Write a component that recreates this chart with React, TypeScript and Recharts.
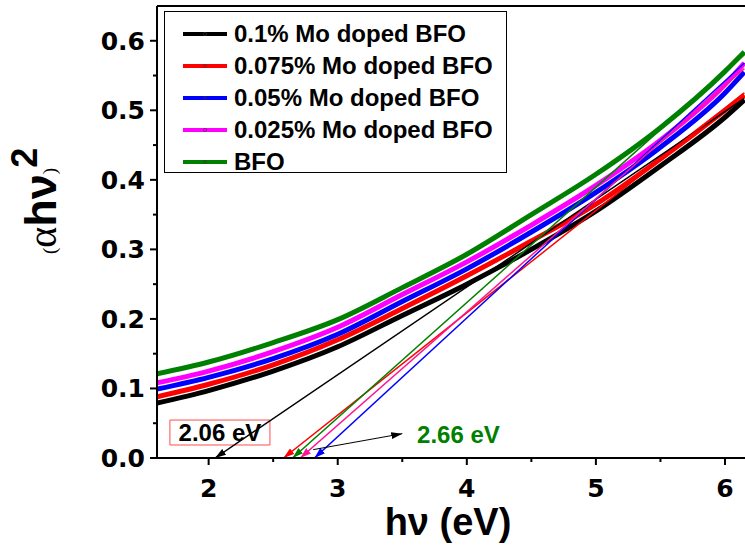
import React from "react";
import {
  LineChart,
  Line,
  XAxis,
  YAxis,
  ReferenceLine,
  ReferenceArea,
  Legend,
} from "recharts";

// photon energy (eV)
const HV = [1.6, 2.0, 2.5, 3.0, 3.5, 4.0, 4.5, 5.0, 5.5, 6.0, 6.15];

// (alpha h nu)^2 for each sample
const MO_0100 = [0.079, 0.097, 0.125, 0.16, 0.205, 0.25, 0.3, 0.355, 0.42, 0.49, 0.515];
const MO_0075 = [0.088, 0.106, 0.134, 0.17, 0.215, 0.262, 0.312, 0.365, 0.43, 0.5, 0.522];
const MO_0050 = [0.099, 0.116, 0.143, 0.178, 0.225, 0.272, 0.325, 0.382, 0.447, 0.525, 0.555];
const MO_0025 = [0.108, 0.125, 0.153, 0.188, 0.235, 0.282, 0.335, 0.392, 0.457, 0.537, 0.568];
const BFO = [0.121, 0.138, 0.166, 0.199, 0.245, 0.293, 0.35, 0.408, 0.475, 0.556, 0.584];

const SERIES_NAMES = [
  "0.1% Mo doped BFO",
  "0.075% Mo doped BFO",
  "0.05% Mo doped BFO",
  "0.025% Mo doped BFO",
  "BFO",
];
const SERIES_VALUES = [MO_0100, MO_0075, MO_0050, MO_0025, BFO];
const SERIES_COLORS = ["#000000", "#ff0000", "#0000ff", "#ff00ff", "#008000"];

// linear extrapolation lines: band gap intercept -> upper end
const TANGENT_X0 = [2.05, 2.58, 2.82, 2.71, 2.65];
const TANGENT_X1 = [6.15, 6.15, 6.15, 6.15, 6.15];
const TANGENT_Y1 = [0.517, 0.525, 0.568, 0.56, 0.58];
const TANGENT_COLORS = ["#000000", "#ff0000", "#0000ff", "#ff1493", "#008000"];

// small pointer toward the "2.66 eV" label
const POINTER_X = [2.81, 3.5];
const POINTER_Y = [0.012, 0.035];

const X_TICKS = [2, 3, 4, 5, 6];
const X_MINOR = [2.5, 3.5, 4.5, 5.5];
const Y_TICKS = [0, 0.1, 0.2, 0.3, 0.4, 0.5, 0.6];
const Y_MINOR = [0.05, 0.15, 0.25, 0.35, 0.45, 0.55];

const LOW_GAP = "2.06 eV";
const HIGH_GAP = "2.66 eV";

const rows = HV.map((x, i) => {
  const r: Record<string, number> = { x };
  SERIES_NAMES.forEach((n, k) => (r[n] = SERIES_VALUES[k][i]));
  return r;
});

const tangentData = TANGENT_X0.map((x0, i) => [
  { x: x0, y: 0 },
  { x: TANGENT_X1[i], y: TANGENT_Y1[i] },
]);

const pointerData = POINTER_X.map((x, i) => ({ x, y: POINTER_Y[i] }));

const tickFont = "'DejaVu Sans', sans-serif";
const textFont = "'Liberation Sans', Arial, sans-serif";

const XTick = ({ x, y, payload }: any) => {
  const major = X_TICKS.includes(payload.value);
  return (
    <g>
      <line x1={x} y1={y} x2={x} y2={y + (major ? 7 : 4)} stroke="#000" strokeWidth={2} />
      {major && (
        <text x={x} y={y + 39} textAnchor="middle" fontFamily={tickFont} fontWeight="bold" fontSize={25} fill="#000">
          {payload.value}
        </text>
      )}
    </g>
  );
};

const YTick = ({ x, y, payload }: any) => {
  const major = Y_TICKS.includes(payload.value);
  return (
    <g>
      <line x1={x - (major ? 7 : 4)} y1={y} x2={x} y2={y} stroke="#000" strokeWidth={2} />
      {major && (
        <text x={x - 12} y={y + 9} textAnchor="end" fontFamily={tickFont} fontWeight="bold" fontSize={25} fill="#000">
          {payload.value.toFixed(1)}
        </text>
      )}
    </g>
  );
};

const renderLegend = ({ payload }: any) => {
  const items = (payload || [])
    .filter((p: any) => SERIES_NAMES.includes(p.value))
    .sort((a: any, b: any) => SERIES_NAMES.indexOf(a.value) - SERIES_NAMES.indexOf(b.value));
  return (
    <div
      style={{
        boxSizing: "border-box",
        width: 343,
        height: 162,
        border: "1px solid #000",
        background: "#fff",
        paddingTop: 6,
      }}
    >
      {items.map((p: any) => (
        <div key={p.value} style={{ height: 32, display: "flex", alignItems: "center", paddingLeft: 17 }}>
          <svg width={46} height={10} style={{ flex: "none" }}>
            <line x1={1} y1={5} x2={45} y2={5} stroke={p.color} strokeWidth={4} />
            <circle cx={23} cy={5} r={1.6} fill={p.color} stroke="#333" strokeWidth={0.6} />
          </svg>
          <span
            style={{
              marginLeft: 6,
              fontFamily: textFont,
              fontWeight: "bold",
              fontSize: 24,
              lineHeight: "32px",
              color: "#000",
              whiteSpace: "nowrap",
            }}
          >
            {p.value}
          </span>
        </div>
      ))}
    </div>
  );
};

const arrowId = (c: string) => "arrow-" + c.replace("#", "");

export default function App() {
  const markerColors = Array.from(new Set([...TANGENT_COLORS, "#000000"]));
  return (
    <div style={{ position: "relative", width: 745, height: 545, background: "#fff", overflow: "hidden" }}>
      <style>{"body{margin:0}"}</style>
      <LineChart width={745} height={545} data={rows} margin={{ top: 6, right: 0, bottom: 0, left: 0 }}>
        <defs>
          {markerColors.map((c) => (
            <marker
              key={c}
              id={arrowId(c)}
              viewBox="0 0 10 10"
              refX={10}
              refY={5}
              markerWidth={11}
              markerHeight={7}
              markerUnits="userSpaceOnUse"
              preserveAspectRatio="none"
              orient="auto-start-reverse"
            >
              <path d="M0,0 L10,5 L0,10 z" fill={c} />
            </marker>
          ))}
        </defs>
        <XAxis
          dataKey="x"
          type="number"
          domain={[1.6, 6.155]}
          allowDataOverflow
          ticks={[...X_TICKS, ...X_MINOR]}
          interval={0}
          height={87}
          tickSize={0}
          tickMargin={0}
          tickLine={false}
          tick={<XTick />}
          axisLine={{ stroke: "#000", strokeWidth: 2 }}
        />
        <YAxis
          type="number"
          domain={[0, 0.65]}
          allowDataOverflow
          ticks={[...Y_TICKS, ...Y_MINOR]}
          interval={0}
          width={157}
          tickSize={0}
          tickMargin={0}
          tickLine={false}
          tick={<YTick />}
          axisLine={{ stroke: "#000", strokeWidth: 2 }}
        />
        <ReferenceLine y={0.65} stroke="#000" strokeWidth={2} />
        {SERIES_NAMES.map((n, i) => (
          <Line
            key={n}
            name={n}
            dataKey={n}
            type="monotone"
            stroke={SERIES_COLORS[i]}
            strokeWidth={5}
            dot={false}
            activeDot={false}
            isAnimationActive={false}
          />
        ))}
        {tangentData.map((d, i) => (
          <Line
            key={"t" + i}
            data={d}
            dataKey="y"
            type="linear"
            stroke={TANGENT_COLORS[i]}
            strokeWidth={1.5}
            dot={false}
            activeDot={false}
            legendType="none"
            markerStart={`url(#${arrowId(TANGENT_COLORS[i])})`}
            isAnimationActive={false}
          />
        ))}
        <Line
          data={pointerData}
          dataKey="y"
          type="linear"
          stroke="#000"
          strokeWidth={1}
          dot={false}
          activeDot={false}
          legendType="none"
          markerEnd={`url(#${arrowId("#000000")})`}
          isAnimationActive={false}
        />
        <ReferenceArea
          x1={1.7}
          x2={2.475}
          y1={0.0187}
          y2={0.0546}
          fill="none"
          stroke="#ff4d4d"
          strokeWidth={1}
          label={{
            value: LOW_GAP,
            position: "center",
            fill: "#000",
            fontSize: 24,
            fontWeight: "bold",
            fontFamily: textFont,
          }}
        />
        <ReferenceArea
          x1={3.6}
          x2={4.27}
          y1={0.02}
          y2={0.049}
          fill="none"
          stroke="none"
          label={{
            value: HIGH_GAP,
            position: "center",
            fill: "#008000",
            fontSize: 24,
            fontWeight: "bold",
            fontFamily: textFont,
          }}
        />
        <Legend
          layout="vertical"
          align="center"
          verticalAlign="middle"
          wrapperStyle={{ left: 164, top: 11, width: 343, height: 162 }}
          content={renderLegend}
        />
      </LineChart>
      <svg width={745} height={545} style={{ position: "absolute", left: 0, top: 0, pointerEvents: "none" }}>
        <text x={448} y={535} textAnchor="middle" fontFamily={textFont} fontWeight="bold" fontSize={38} fill="#000">
          hν (eV)
        </text>
        <text transform="rotate(-90)" x={-254} y={56} fill="#000">
          <tspan fontFamily="'Liberation Serif', serif" fontSize={19}>(</tspan>
          <tspan fontFamily="'Liberation Serif', serif" fontSize={40}>α</tspan>
          <tspan fontFamily={textFont} fontWeight="bold" fontSize={45}>hν</tspan>
          <tspan fontFamily="'Liberation Serif', serif" fontSize={19}>)</tspan>
          <tspan fontFamily={textFont} fontWeight="bold" fontSize={36} dy={-19}>2</tspan>
        </text>
      </svg>
    </div>
  );
}
